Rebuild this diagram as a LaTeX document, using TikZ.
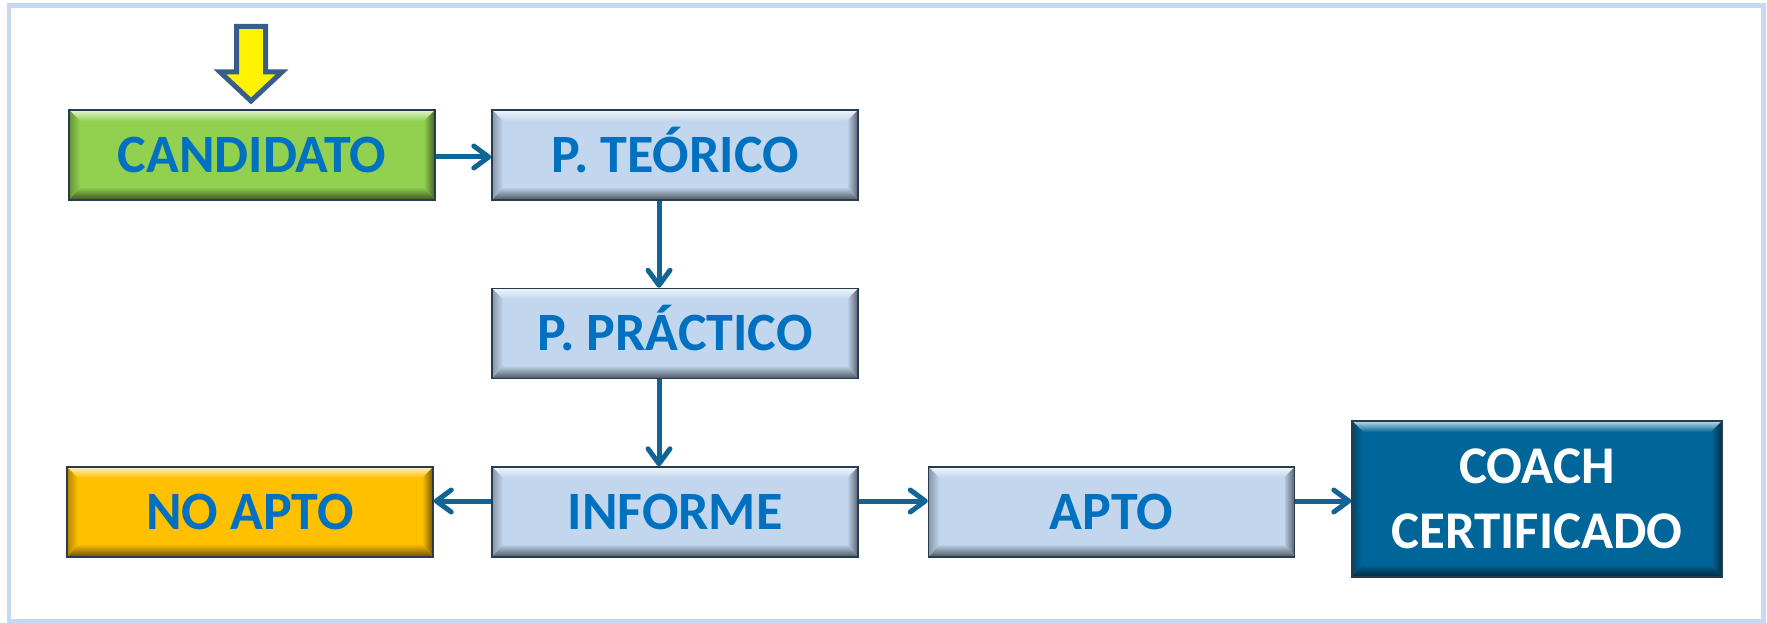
\documentclass[tikz,border=0pt]{standalone}
\usepackage{fontspec}
\setmainfont{Carlito}
\usetikzlibrary{arrows.meta,calc}
\definecolor{frameblue}{RGB}{198,217,241}
\definecolor{boxgreen}{RGB}{146,208,80}
\definecolor{boxlight}{RGB}{194,214,238}
\definecolor{boxgold}{RGB}{255,192,0}
\definecolor{boxdark}{RGB}{0,102,153}
\definecolor{txtblue}{RGB}{0,112,192}
\definecolor{connblue}{RGB}{16,100,150}
\definecolor{boxline}{RGB}{40,60,80}
\definecolor{arrowline}{RGB}{56,93,138}
\tikzset{
  bevelbox/.style={
    rectangle, fill=#1, draw=boxline, line width=1.5pt, inner sep=0pt,
    minimum width=366pt, minimum height=90pt,
    font=\bfseries\fontsize{54}{60}\selectfont, text=txtblue,
    text height=34pt, text depth=0pt,
    path picture={
      \path (path picture bounding box.north west) coordinate (pNW)
            (path picture bounding box.north east) coordinate (pNE)
            (path picture bounding box.south west) coordinate (pSW)
            (path picture bounding box.south east) coordinate (pSE);
      \shade[top color=#1!25!white, bottom color=#1]
        (pNW) -- (pNE) -- ([shift={(-11pt,-11pt)}]pNE) -- ([shift={(11pt,-11pt)}]pNW) -- cycle;
      \shade[top color=#1, bottom color=#1!40!black]
        (pSW) -- (pSE) -- ([shift={(-11pt,13pt)}]pSE) -- ([shift={(11pt,13pt)}]pSW) -- cycle;
      \shade[left color=#1, right color=#1!45!black]
        (pNE) -- (pSE) -- ([shift={(-11pt,13pt)}]pSE) -- ([shift={(-11pt,-11pt)}]pNE) -- cycle;
      \shade[left color=#1!70!black, right color=#1]
        (pNW) -- (pSW) -- ([shift={(11pt,13pt)}]pSW) -- ([shift={(11pt,-11pt)}]pNW) -- cycle;
    }
  },
  conn/.style={draw=connblue, line width=5pt,
    -{Straight Barb[length=15pt,width=22pt,round]}},
}
\begin{document}
\begin{tikzpicture}[x=1pt,y=-1pt]
\useasboundingbox (0,0) rectangle (1767,623);
\draw[frameblue, line width=4.5pt] (9,5.5) rectangle (1763.5,621);

% start arrow
\draw[arrowline, fill=yellow, line width=5pt, line join=miter]
  (236.5,26.5) -- (265.5,26.5) -- (265.5,72) -- (282,72) -- (251,101)
  -- (220,72) -- (236.5,72) -- cycle;

\node[bevelbox=boxgreen] (cand) at (252,155) {CANDIDATO};
\node[bevelbox=boxlight] (teo) at (675,155) {P. TEÓRICO};
\node[bevelbox=boxlight] (pra) at (675,333.5) {P. PRÁCTICO};
\node[bevelbox=boxlight] (inf) at (675,512) {INFORME};
\node[bevelbox=boxgold] (noapto) at (250,512) {NO APTO};
\node[bevelbox=boxlight] (apto) at (1111.5,512) {APTO};
\node[bevelbox=boxdark, minimum width=370pt, minimum height=156pt,
      text height=, text depth=, text=white, align=center,
      font=\bfseries\fontsize{53}{65}\selectfont] (coach) at (1537,499)
      {COACH\\CERTIFICADO};

\draw[conn] ([yshift=-2pt]cand.east) -- ([yshift=-2pt]teo.west);
\draw[conn] ([xshift=-16pt]teo.south) -- ([xshift=-16pt]pra.north);
\draw[conn] ([xshift=-16pt]pra.south) -- ([xshift=-16pt]inf.north);
\draw[conn] ([yshift=11pt]inf.west) -- ([yshift=11pt]noapto.east);
\draw[conn] ([yshift=11pt]inf.east) -- ([yshift=11pt]apto.west);
\draw[conn] ([yshift=11pt]apto.east) -- ([yshift=11pt]apto.east -| coach.west);
\end{tikzpicture}
\end{document}
